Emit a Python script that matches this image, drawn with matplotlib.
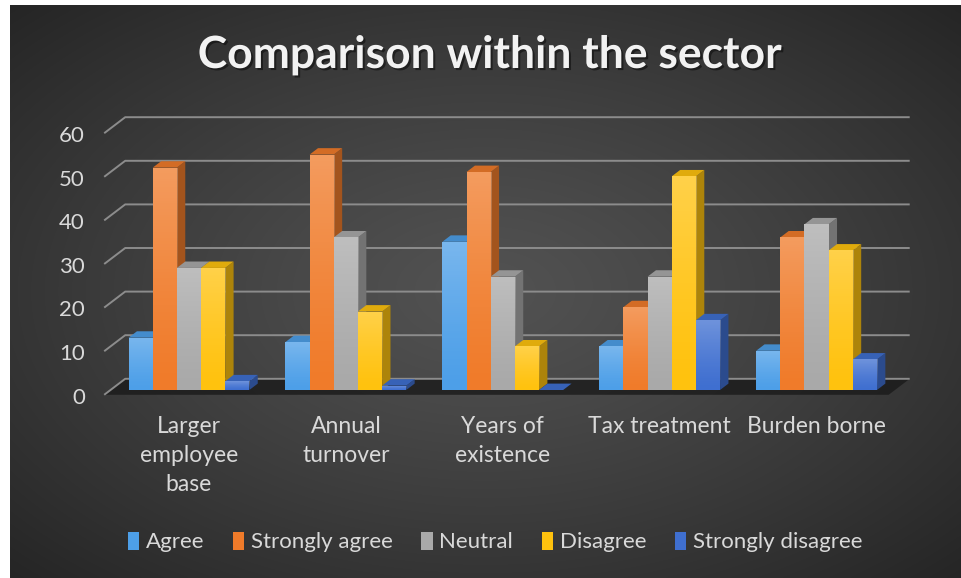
import numpy as np
import matplotlib
matplotlib.use("Agg")
import matplotlib.pyplot as plt
from matplotlib.patches import Polygon, Patch
from matplotlib.colors import to_rgb
import matplotlib.patheffects as pe

# ---- data -------------------------------------------------------------
categories = ["Larger\nemployee\nbase", "Annual\nturnover", "Years of\nexistence",
              "Tax treatment", "Burden borne"]
series_names = ["Agree", "Strongly agree", "Neutral", "Disagree", "Strongly disagree"]
agree = [12, 11, 34, 10, 9]
strongly_agree = [51, 54, 50, 19, 35]
neutral = [28, 35, 26, 26, 38]
disagree = [28, 18, 10, 49, 32]
strongly_disagree = [2, 1, 0, 16, 7]
y_ticks = [0, 10, 20, 30, 40, 50, 60]

series_values = [agree, strongly_agree, neutral, disagree, strongly_disagree]
series_colors = ["#4d9fe8", "#f07b2a", "#a9a9a9", "#ffc20e", "#3f6fd0"]

plt.rcParams["font.family"] = ["Lato", "DejaVu Sans"]
TEXT = "#d9d9d9"

W, H, DPI = 961, 578, 100
fig = plt.figure(figsize=(W / DPI, H / DPI), dpi=DPI)
fig.patch.set_facecolor("white")

# ---- dark radial background panel --------------------------------------
bg = fig.add_axes([10 / W, 0, 1 - 10 / W, 1 - 5 / H])
yy, xx = np.mgrid[0:1:300j, 0:1:500j]
r = np.sqrt(((xx - 0.5) / 0.75) ** 2 + ((yy - 0.5) / 0.75) ** 2)
r = np.clip(r, 0, 1)
c_in, c_out = 0x52 / 255, 0x22 / 255
g = c_in + (c_out - c_in) * r ** 1.2
bg.imshow(np.dstack([g, g, g]), extent=[0, 1, 0, 1], aspect="auto",
          interpolation="bilinear", origin="lower")
bg.set_xlim(0, 1)
bg.set_ylim(0, 1)
bg.axis("off")

# ---- main plotting axes (front plane of the bars) -----------------------
x_left, x_right = 110.5, 895.0
y_zero, y_top = 390.0, 128.4
ax = fig.add_axes([x_left / W, 1 - y_zero / H, (x_right - x_left) / W, (y_zero - y_top) / H])
ax.set_xlim(-0.5, 4.5)
ax.set_ylim(0, 60)
ax.patch.set_alpha(0)
for s in ax.spines.values():
    s.set_visible(False)

px_per_cat = (x_right - x_left) / 5
px_per_val = (y_zero - y_top) / 60
DX = 21 / px_per_cat      # full depth of the plot box, in data units
DY = 16 / px_per_val
FRONT, BACK = 0.3, 0.7    # bars sit in the middle of the box depth
bx, by = (BACK - FRONT) * DX, (BACK - FRONT) * DY

x0, x1 = -0.5, 4.5
# floor
floor = Polygon([(x0 - FRONT * DX, -FRONT * DY), (x1 - FRONT * DX, -FRONT * DY),
                 (x1 + BACK * DX, BACK * DY), (x0 + BACK * DX, BACK * DY)],
                closed=True, facecolor="#1a1a1a", edgecolor="none", alpha=0.8,
                clip_on=False, zorder=1)
ax.add_patch(floor)

# gridlines: side wall diagonal + back wall horizontal
for v in y_ticks:
    ax.plot([x0 - FRONT * DX, x0 + BACK * DX, x1 + BACK * DX],
            [v - FRONT * DY, v + BACK * DY, v + BACK * DY],
            color="#8c8c8c", lw=1.4, clip_on=False, zorder=2, solid_capstyle="butt")
    ax.annotate(str(v), xy=(x0 - FRONT * DX, v - FRONT * DY), xytext=(-14, -2),
                textcoords="offset points", ha="right", va="center",
                fontsize=16, color=TEXT, annotation_clip=False)


def shade(c, f):
    r_, g_, b_ = to_rgb(c)
    return (r_ * f, g_ * f, b_ * f)


n_series = len(series_values)
width = 0.154
ramp = np.linspace(0, 1, 64)
white_fade = np.zeros((64, 1, 4))
white_fade[:, 0, :3] = 1.0
white_fade[:, 0, 3] = 0.25 * ramp ** 1.3   # stronger toward the top

handles = []
for s, (vals, col) in enumerate(zip(series_values, series_colors)):
    xs = np.arange(len(categories)) + (s - (n_series - 1) / 2) * width
    bars = ax.bar(xs, vals, width=width, color=col, linewidth=0, clip_on=False)
    handles.append(Patch(facecolor=col, edgecolor="none"))
    for g_i, (rect, v) in enumerate(zip(bars, vals)):
        z = 10 + (g_i * n_series + s) * 4
        xa = rect.get_x()
        xb = xa + rect.get_width()
        side = Polygon([(xb, 0), (xb + bx, by), (xb + bx, v + by), (xb, v)],
                       closed=True, facecolor=shade(col, 0.68), edgecolor="none",
                       clip_on=False, zorder=z)
        top = Polygon([(xa, v), (xb, v), (xb + bx, v + by), (xa + bx, v + by)],
                      closed=True, facecolor=shade(col, 0.88), edgecolor="none",
                      clip_on=False, zorder=z + 1)
        ax.add_patch(side)
        ax.add_patch(top)
        rect.set_zorder(z + 2)
        if v > 0:
            im = ax.imshow(white_fade, extent=[xa, xb, 0, v], aspect="auto",
                           origin="lower", zorder=z + 3, interpolation="bilinear")
            im.set_clip_path(rect)

ax.set_xlim(-0.5, 4.5)
ax.set_ylim(0, 60)
ax.set_yticks([])
ax.set_xticks(range(len(categories)))
ax.set_xticklabels(categories, fontsize=16.5, color=TEXT, linespacing=1.45)
ax.tick_params(axis="x", length=0, pad=19)

# ---- title -----------------------------------------------------------------
fig.text(490 / W, 1 - 55 / H, "Comparison within the sector", ha="center", va="center",
         fontsize=32, fontweight="bold", color="#f2f2f2",
         path_effects=[pe.SimplePatchShadow(offset=(1.5, -1.5), shadow_rgbFace="black", alpha=0.45),
                       pe.Normal()])

# ---- legend ----------------------------------------------------------------
leg = ax.legend(handles, series_names, loc="center", ncol=5,
                bbox_to_anchor=(495 / W, 1 - 542 / H), bbox_transform=fig.transFigure,
                frameon=False, fontsize=16, labelcolor=TEXT,
                handlelength=0.5, handleheight=0.9, handletextpad=0.3, columnspacing=1.3)

fig.savefig("out.png", dpi=DPI)
